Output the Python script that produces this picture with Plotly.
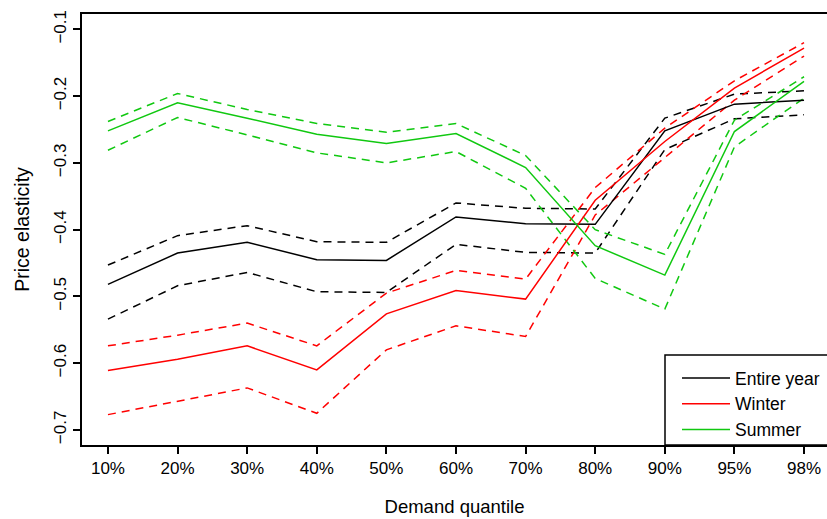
import plotly.graph_objects as go

quantiles = ["10%", "20%", "30%", "40%", "50%", "60%", "70%", "80%", "90%", "95%", "98%"]
positions = list(range(1, len(quantiles) + 1))

year_mid = [-0.482, -0.435, -0.419, -0.445, -0.446, -0.381, -0.391, -0.392, -0.252, -0.212, -0.206]
year_up = [-0.453, -0.409, -0.394, -0.418, -0.419, -0.360, -0.368, -0.369, -0.233, -0.197, -0.192]
year_lo = [-0.534, -0.484, -0.464, -0.493, -0.494, -0.422, -0.434, -0.435, -0.280, -0.234, -0.228]

winter_mid = [-0.611, -0.594, -0.574, -0.610, -0.526, -0.491, -0.504, -0.356, -0.268, -0.188, -0.128]
winter_up = [-0.574, -0.558, -0.540, -0.574, -0.495, -0.461, -0.474, -0.337, -0.248, -0.177, -0.120]
winter_lo = [-0.677, -0.657, -0.637, -0.675, -0.580, -0.544, -0.560, -0.378, -0.292, -0.206, -0.140]

summer_mid = [-0.252, -0.210, -0.233, -0.257, -0.271, -0.256, -0.307, -0.424, -0.468, -0.253, -0.178]
summer_up = [-0.238, -0.196, -0.220, -0.241, -0.254, -0.241, -0.289, -0.400, -0.437, -0.236, -0.171]
summer_lo = [-0.281, -0.232, -0.258, -0.285, -0.300, -0.283, -0.338, -0.473, -0.519, -0.276, -0.203]

y_ticks = [-0.1, -0.2, -0.3, -0.4, -0.5, -0.6, -0.7]
y_tick_text = ["\u22120.1", "\u22120.2", "\u22120.3", "\u22120.4", "\u22120.5", "\u22120.6", "\u22120.7"]

series = [
    ("Entire year", "#000000", year_mid, year_up, year_lo),
    ("Winter", "#FF0000", winter_mid, winter_up, winter_lo),
    ("Summer", "#10C810", summer_mid, summer_up, summer_lo),
]

FONT = "Liberation Sans, Arial, sans-serif"
fig = go.Figure()
for name, color, mid, up, lo in series:
    for band in (up, lo):
        fig.add_trace(go.Scatter(x=positions, y=band, mode="lines", showlegend=False,
                                 line=dict(color=color, width=1.5, dash="8px,6px"),
                                 hoverinfo="skip"))
for name, color, mid, up, lo in series:
    fig.add_trace(go.Scatter(x=positions, y=mid, mode="lines", name=name,
                             line=dict(color=color, width=1.5)))

W, H = 827, 519
L, R, T, B = 82, 0, 14, 74
pw, ph = W - L - R, H - T - B

fig.update_layout(
    width=W, height=H,
    margin=dict(l=L, r=R, t=T, b=B),
    paper_bgcolor="white", plot_bgcolor="white",
    font=dict(family=FONT, size=17, color="black"),
    showlegend=True,
    legend=dict(x=(677 - L) / pw, y=(445 - 360) / ph, xanchor="left", yanchor="top",
                bgcolor="rgba(0,0,0,0)", borderwidth=0, traceorder="normal",
                font=dict(family=FONT, size=17.5, color="black"), itemwidth=48,
                tracegroupgap=0),
    shapes=[dict(type="rect", xref="paper", yref="paper",
                 x0=(665 - L) / pw, x1=1.02, y0=0, y1=(445 - 355) / ph,
                 line=dict(color="black", width=1.5), fillcolor="white", layer="below")],
)
fig.update_xaxes(
    range=[0.627, 11.33], tickmode="array", tickvals=positions, ticktext=quantiles,
    showgrid=False, zeroline=False, showline=True, linecolor="black", linewidth=1.5,
    mirror=True, ticks="outside", ticklen=7, tickwidth=1.5, tickcolor="black",
    title=dict(text="Demand quantile", standoff=23,
               font=dict(family=FONT, size=18.5, color="black")),
)
fig.update_yaxes(
    range=[-0.7225, -0.077], tickmode="array", tickvals=y_ticks, ticktext=y_tick_text,
    tickangle=-90, showgrid=False, zeroline=False, showline=True, linecolor="black",
    linewidth=1.5, ticks="outside", ticklen=7, tickwidth=1.5, tickcolor="black",
    title=dict(text="Price elasticity", standoff=17,
               font=dict(family=FONT, size=19.5, color="black")),
)
fig.write_html("out.html")
